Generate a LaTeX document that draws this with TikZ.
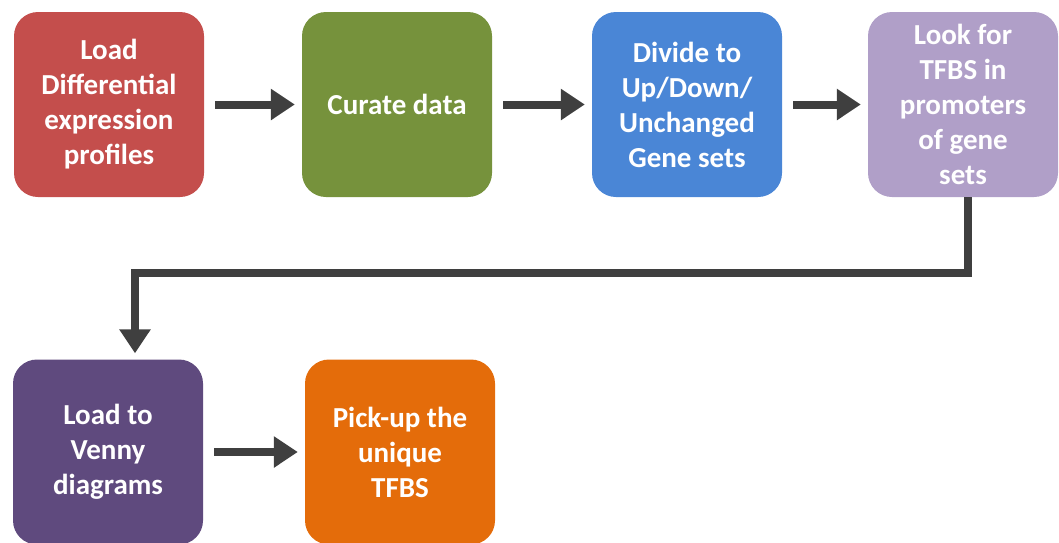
\documentclass[tikz,border=0pt]{standalone}
\usepackage{fontspec}
\setmainfont{Carlito}
\usetikzlibrary{arrows.meta}
\definecolor{cred}{HTML}{C44E4C}
\definecolor{cgreen}{HTML}{76923C}
\definecolor{cblue}{HTML}{4A86D6}
\definecolor{clav}{HTML}{B09FC8}
\definecolor{cpurple}{HTML}{5F4A7E}
\definecolor{corange}{HTML}{E46C0A}
\definecolor{carrow}{HTML}{3F3F3F}
\tikzset{
  box/.style={rectangle, rounded corners=24pt, minimum width=190pt, minimum height=185pt,
    inner sep=0pt, align=center, text=white, font=\fontsize{29}{35}\selectfont\bfseries},
  flow/.style={draw=carrow, line width=8pt, -{Triangle[width=30pt,length=24pt]},
    shorten <=11pt, shorten >=7pt}
}
\begin{document}
\begin{tikzpicture}[x=1pt,y=-1pt]
\useasboundingbox (0,0) rectangle (1059,542);
\node[box, fill=cred] (load) at (109,104.5) {Load\\Differential\\expression\\profiles};
\node[box, fill=cgreen] (curate) at (397,104.5) {Curate data};
\node[box, fill=cblue] (divide) at (687,104.5) {Divide to\\Up/Down/\\Unchanged\\Gene sets};
\node[box, fill=clav, minimum width=190pt] (look) at (963,104.5) {Look for\\TFBS in\\promoters\\of gene\\sets};
\node[box, fill=cpurple] (venny) at (108,452) {Load to\\Venny\\diagrams};
\node[box, fill=corange] (pick) at (400,452) {Pick-up the\\unique\\TFBS};
\draw[flow] (load) -- (curate);
\draw[flow] (curate) -- (divide);
\draw[flow] (divide) -- (look);
\draw[flow] (venny) -- (pick);
\draw[draw=carrow, line width=8pt, -{Triangle[width=30pt,length=24pt]}, shorten >=6pt]
  ([xshift=5pt]look.south) -- ++(0,76) coordinate (turn) -| ([xshift=27pt]venny.north);
\end{tikzpicture}
\end{document}
